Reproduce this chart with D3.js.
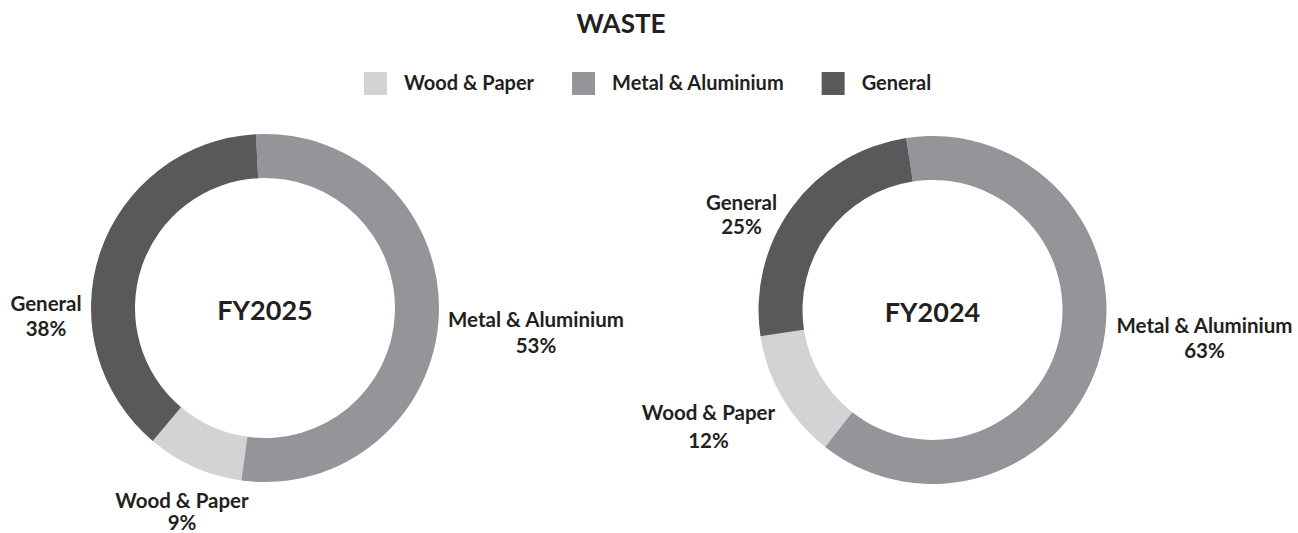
<!DOCTYPE html>
<html>
<head>
<meta charset="utf-8">
<script src="https://cdn.jsdelivr.net/npm/d3@7"></script>
<style>
  html, body { margin: 0; padding: 0; background: #ffffff; }
  svg { display: block; font-family: Lato, "Open Sans", sans-serif; font-weight: 700; }
</style>
</head>
<body>
<svg id="chart" width="1298" height="533"></svg>
<script>
// ---- data ----
const title = "WASTE";
const categories = ["Wood & Paper", "Metal & Aluminium", "General"];
const years = ["FY2025", "FY2024"];
const fy2025 = [9, 53, 38];
const fy2024 = [12, 63, 25];
const seriesByYear = [fy2025, fy2024];

// ---- styling / layout ----
const colors = ["#d1d3d4", "#939598", "#58595b"];
const textColor = "#231f20";
const drawOrder = ["Metal & Aluminium", "Wood & Paper", "General"];
const outerR = 174, innerR = 130;
const donutLayout = [
  { cx: 265, cy: 308, startDeg: -3.0,
    labels: { "General": [-219, 3], "Metal & Aluminium": [271, 19], "Wood & Paper": [-83, 200] },
    lineGap: { "General": 25, "Metal & Aluminium": 26, "Wood & Paper": 22 } },
  { cx: 932.5, cy: 310, startDeg: -8.7,
    labels: { "General": [-191, -100], "Metal & Aluminium": [272, 23], "Wood & Paper": [-224, 110] },
    lineGap: { "General": 24, "Metal & Aluminium": 25, "Wood & Paper": 28 } }
];

const svg = d3.select("#chart");
const color = d3.scaleOrdinal().domain(categories).range(colors);

// title
svg.append("text")
  .attr("x", 621).attr("y", 33)
  .attr("text-anchor", "middle")
  .attr("font-size", 26)
  .attr("fill", textColor)
  .text(title);

// legend
const legend = svg.append("g");
let lx = 364;
categories.forEach((c) => {
  legend.append("rect")
    .attr("x", lx).attr("y", 72)
    .attr("width", 23).attr("height", 23)
    .attr("fill", color(c));
  const t = legend.append("text")
    .attr("x", lx + 23 + 17).attr("y", 90)
    .attr("font-size", 20)
    .attr("fill", textColor)
    .text(c);
  lx = lx + 23 + 17 + t.node().getComputedTextLength() + 38;
});

// donuts
const arc = d3.arc().innerRadius(innerR).outerRadius(outerR);
years.forEach((yr, i) => {
  const L = donutLayout[i];
  const values = seriesByYear[i];
  const rows = categories.map((c, k) => ({ cat: c, value: values[k] }));
  const start = L.startDeg * Math.PI / 180;
  const pie = d3.pie()
    .value(d => d.value)
    .sort((a, b) => drawOrder.indexOf(a.cat) - drawOrder.indexOf(b.cat))
    .startAngle(start)
    .endAngle(start + 2 * Math.PI);

  const g = svg.append("g").attr("transform", `translate(${L.cx},${L.cy})`);
  g.selectAll("path")
    .data(pie(rows))
    .join("path")
    .attr("d", arc)
    .attr("fill", d => color(d.data.cat));

  g.append("text")
    .attr("x", 0).attr("y", 12)
    .attr("text-anchor", "middle")
    .attr("font-size", 27)
    .attr("fill", textColor)
    .text(yr);

  rows.forEach(r => {
    const [dx, dy] = L.labels[r.cat];
    const t = g.append("text")
      .attr("text-anchor", "middle")
      .attr("font-size", 20.5)
      .attr("fill", textColor);
    t.append("tspan").attr("x", dx).attr("y", dy).text(r.cat);
    t.append("tspan").attr("x", dx).attr("y", dy + L.lineGap[r.cat]).text(r.value + "%");
  });
});
</script>
</body>
</html>
